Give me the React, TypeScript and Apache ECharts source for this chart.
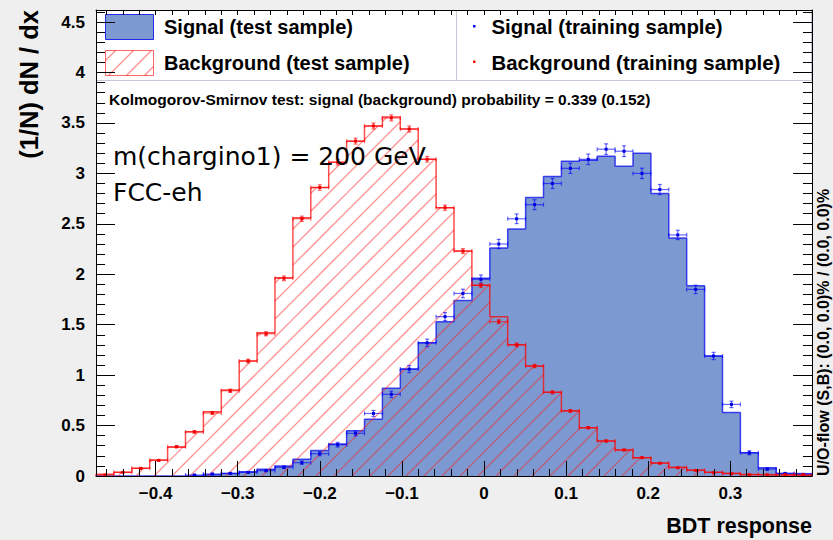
import React, { useEffect, useRef } from "react";
import * as echarts from "echarts";

// ---- histogram definition ----
const X_MIN = -0.4726;
const X_MAX = 0.3995;
const N_BINS = 40;
const Y_MIN = 0;
const Y_MAX = 4.62;

// Signal (test sample) – filled histogram
const SIG_TEST = [0, 0, 0, 0, 0, 0.003, 0.013, 0.026, 0.043, 0.066, 0.099, 0.165, 0.254, 0.317, 0.449, 0.562, 0.869, 1.06, 1.32, 1.53, 1.74, 1.96, 2.26, 2.45, 2.76, 2.97, 3.12, 3.13, 3.17, 3.07, 3.2, 2.8, 2.36, 1.885, 1.19, 0.63, 0.23, 0.082, 0.026, 0.022];
// Background (test sample) – hatched histogram
const BKG_TEST = [0.017, 0.037, 0.076, 0.159, 0.284, 0.439, 0.637, 0.852, 1.14, 1.42, 1.965, 2.56, 2.86, 3.11, 3.32, 3.47, 3.56, 3.44, 3.14, 2.66, 2.23, 1.89, 1.58, 1.3, 1.09, 0.83, 0.647, 0.479, 0.347, 0.258, 0.18, 0.129, 0.086, 0.059, 0.037, 0.027, 0.015, 0.01, 0.007, 0.005];
// Signal (training sample) – points with errors
const SIG_TRAIN = [0, 0, 0, 0, 0, 0.01, 0.02, 0.026, 0.036, 0.053, 0.086, 0.132, 0.221, 0.31, 0.423, 0.62, 0.81, 1.06, 1.32, 1.58, 1.81, 1.95, 2.3, 2.55, 2.69, 2.9, 3.05, 3.14, 3.24, 3.22, 3.0, 2.84, 2.39, 1.85, 1.19, 0.71, 0.23, 0.069, 0.026, 0.016];
const SIG_TRAIN_ERR = [0, 0, 0, 0, 0, 0.004, 0.006, 0.007, 0.008, 0.01, 0.013, 0.016, 0.02, 0.023, 0.026, 0.03, 0.032, 0.035, 0.037, 0.04, 0.042, 0.043, 0.046, 0.048, 0.049, 0.05, 0.051, 0.052, 0.053, 0.053, 0.051, 0.05, 0.046, 0.042, 0.036, 0.032, 0.02, 0.011, 0.007, 0.005];
// Background (training sample) – points with errors
const BKG_TRAIN = [0.01, 0.036, 0.076, 0.155, 0.29, 0.437, 0.625, 0.845, 1.14, 1.41, 1.96, 2.55, 2.86, 3.11, 3.32, 3.47, 3.55, 3.44, 3.14, 2.66, 2.23, 1.89, 1.53, 1.3, 1.09, 0.83, 0.645, 0.479, 0.347, 0.258, 0.182, 0.127, 0.081, 0.055, 0.035, 0.023, 0.013, 0.013, 0.013, 0.013];
const BKG_TRAIN_ERR = [0.003, 0.004, 0.005, 0.007, 0.01, 0.012, 0.014, 0.016, 0.018, 0.02, 0.023, 0.026, 0.027, 0.028, 0.029, 0.03, 0.03, 0.03, 0.028, 0.026, 0.024, 0.022, 0.02, 0.019, 0.017, 0.015, 0.013, 0.011, 0.01, 0.008, 0.007, 0.006, 0.005, 0.004, 0.003, 0.003, 0.002, 0.002, 0.002, 0.002];

// ---- ticks & labels ----
const X_MAJOR_TICKS = [-0.4, -0.3, -0.2, -0.1, 0, 0.1, 0.2, 0.3];
const X_TICK_LABELS = ["\u22120.4", "\u22120.3", "\u22120.2", "\u22120.1", "0", "0.1", "0.2", "0.3"];
const Y_MAJOR_TICKS = [0, 0.5, 1, 1.5, 2, 2.5, 3, 3.5, 4, 4.5];
const Y_TICK_LABELS = ["0", "0.5", "1", "1.5", "2", "2.5", "3", "3.5", "4", "4.5"];

const LEGEND_LEFT = ["Signal (test sample)", "Background (test sample)"];
const LEGEND_RIGHT = ["Signal (training sample)", "Background (training sample)"];
const KS_TEXT = "Kolmogorov-Smirnov test: signal (background) probability = 0.339 (0.152)";
const NOTE_LINES = ["m(chargino1) = 200 GeV", "FCC-eh"];
const X_TITLE = "BDT response";
const Y_TITLE = "(1/N) dN / dx";
const FLOW_TEXT = "U/O-flow (S,B): (0.0, 0.0)% / (0.0, 0.0)%";

const X_MINOR_TICKS: number[] = [];
for (let k = -23; k <= 19; k++) if (k % 5 !== 0) X_MINOR_TICKS.push(Number((k * 0.02).toFixed(2)));
const X_ALL_TICKS: number[] = [];
for (let k = -23; k <= 19; k++) X_ALL_TICKS.push(Number((k * 0.02).toFixed(2)));
const Y_MINOR_TICKS: number[] = [];
for (let k = 1; k <= 46; k++) if (k % 5 !== 0) Y_MINOR_TICKS.push(Number((k * 0.1).toFixed(1)));

const BIN_W = (X_MAX - X_MIN) / N_BINS;
const EDGES = Array.from({ length: N_BINS + 1 }, (_, i) => X_MIN + i * BIN_W);

const FONT = '"Liberation Sans", Arial, Helvetica, sans-serif';
const NOTE_FONT = '"DejaVu Sans", Verdana, sans-serif';
const SIG_FILL = "#7d99d1";
const SIG_LINE = "#0000ee";
const BKG_LINE = "#ff0000";
const HATCH_STEP = 18;

// diagonal "/" hatch lines (x + y = c) clipped to a pixel rectangle
function hatchLines(xa: number, yt: number, xb: number, yb: number, offset = 0) {
  const out: any[] = [];
  const cMin = xa + yt;
  const cMax = xb + yb;
  for (let c = Math.ceil((cMin - offset) / HATCH_STEP) * HATCH_STEP + offset; c <= cMax; c += HATCH_STEP) {
    const lo = Math.max(xa, c - yb);
    const hi = Math.min(xb, c - yt);
    if (hi > lo + 0.2) {
      out.push({
        type: "line",
        shape: { x1: lo, y1: c - lo, x2: hi, y2: c - hi },
        style: { stroke: "#ff2020", lineWidth: 1.3, opacity: 0.5 },
      });
    }
  }
  return out;
}

function stepData(vals: number[]) {
  const d: number[][] = [[EDGES[0], 0]];
  vals.forEach((v, i) => d.push([EDGES[i], v]));
  d.push([EDGES[N_BINS], vals[N_BINS - 1]]);
  d.push([EDGES[N_BINS], 0]);
  return d;
}

function binData(vals: number[]) {
  return vals.map((v, i) => [EDGES[i], EDGES[i + 1], v]);
}

function pointData(vals: number[], errs: number[]) {
  const d: number[][] = [];
  vals.forEach((v, i) => {
    if (v > 0) d.push([(EDGES[i] + EDGES[i + 1]) / 2, v, errs[i], EDGES[i], EDGES[i + 1]]);
  });
  return d;
}

function renderHatch(_params: any, api: any) {
  const x0 = api.value(0);
  const x1 = api.value(1);
  const v = api.value(2);
  const pA = api.coord([x0, v]);
  const pB = api.coord([x1, 0]);
  return { type: "group", children: hatchLines(pA[0], pA[1], pB[0], pB[1]) };
}

function makeRender(barColor: string, markColor: string) {
  return (_params: any, api: any) => {
    const xc = api.value(0);
    const v = api.value(1);
    const e = api.value(2);
    const x0 = api.value(3);
    const x1 = api.value(4);
    const pL = api.coord([x0, v]);
    const pR = api.coord([x1, v]);
    const pC = api.coord([xc, v]);
    const pT = api.coord([xc, v + e]);
    const pB = api.coord([xc, Math.max(0, v - e)]);
    const s = { stroke: barColor, lineWidth: 1.2, opacity: 0.6 };
    return {
      type: "group",
      children: [
        { type: "line", shape: { x1: pL[0], y1: pL[1], x2: pR[0], y2: pR[1] }, style: s },
        { type: "line", shape: { x1: pL[0], y1: pL[1] - 2, x2: pL[0], y2: pL[1] + 2 }, style: s },
        { type: "line", shape: { x1: pR[0], y1: pR[1] - 2, x2: pR[0], y2: pR[1] + 2 }, style: s },
        { type: "line", shape: { x1: pT[0], y1: pT[1], x2: pB[0], y2: pB[1] }, style: s },
        { type: "line", shape: { x1: pT[0] - 2, y1: pT[1], x2: pT[0] + 2, y2: pT[1] }, style: s },
        { type: "line", shape: { x1: pB[0] - 2, y1: pB[1], x2: pB[0] + 2, y2: pB[1] }, style: s },
        { type: "rect", shape: { x: pC[0] - 1.5, y: pC[1] - 1.5, width: 3, height: 3 }, style: { fill: markColor } },
      ],
    };
  };
}

function labelFor(ticks: number[], labels: string[]) {
  return (v: number) => {
    const i = ticks.findIndex((t) => Math.abs(t - v) < 1e-9);
    return i >= 0 ? labels[i] : "";
  };
}

export default function App() {
  const ref = useRef<HTMLDivElement>(null);

  useEffect(() => {
    if (!ref.current) return;
    const chart = echarts.init(ref.current, null, { renderer: "svg" });
    const lineSt = { color: "#000", width: 1 };
    const hiddenLabel = { show: false };
    const baseX = { type: "value", min: X_MIN, max: X_MAX, z: 10, splitLine: { show: false } };
    const baseY = { type: "value", min: Y_MIN, max: Y_MAX, z: 10, splitLine: { show: false } };

    const legendHatch = hatchLines(105.5, 50.5, 153.5, 75.5, 4).map((l) => ({ ...l, z: 3 }));

    const option: any = {
      animation: false,
      backgroundColor: "#efefef",
      grid: { left: 96, right: 21, top: 10, bottom: 64, show: true, backgroundColor: "#ffffff", borderWidth: 0 },
      xAxis: [
        {
          ...baseX,
          position: "bottom",
          axisLine: { show: true, onZero: false, lineStyle: lineSt },
          axisTick: { show: true, inside: true, length: 15, customValues: X_MAJOR_TICKS, lineStyle: lineSt },
          axisLabel: {
            show: true, customValues: X_MAJOR_TICKS, formatter: labelFor(X_MAJOR_TICKS, X_TICK_LABELS),
            margin: 9, fontSize: 17, fontWeight: "bold", color: "#000", fontFamily: FONT,
          },
        },
        {
          ...baseX,
          position: "bottom",
          axisLine: { show: false, onZero: false },
          axisTick: { show: true, inside: true, length: 7, customValues: X_MINOR_TICKS, lineStyle: lineSt },
          axisLabel: hiddenLabel,
        },
        {
          ...baseX,
          position: "top",
          axisLine: { show: true, onZero: false, lineStyle: lineSt },
          axisTick: { show: true, inside: true, length: 5, customValues: X_ALL_TICKS, lineStyle: lineSt },
          axisLabel: hiddenLabel,
        },
      ],
      yAxis: [
        {
          ...baseY,
          position: "left",
          axisLine: { show: true, onZero: false, lineStyle: lineSt },
          axisTick: { show: true, inside: true, length: 19, customValues: Y_MAJOR_TICKS, lineStyle: lineSt },
          axisLabel: {
            show: true, customValues: Y_MAJOR_TICKS, formatter: labelFor(Y_MAJOR_TICKS, Y_TICK_LABELS),
            margin: 11, fontSize: 17, fontWeight: "bold", color: "#000", fontFamily: FONT,
          },
        },
        {
          ...baseY,
          position: "left",
          axisLine: { show: false, onZero: false },
          axisTick: { show: true, inside: true, length: 9, customValues: Y_MINOR_TICKS, lineStyle: lineSt },
          axisLabel: hiddenLabel,
        },
        {
          ...baseY,
          position: "right",
          axisLine: { show: true, onZero: false, lineStyle: lineSt },
          axisTick: { show: true, inside: true, length: 19, customValues: Y_MAJOR_TICKS, lineStyle: lineSt },
          axisLabel: hiddenLabel,
        },
        {
          ...baseY,
          position: "right",
          axisLine: { show: false, onZero: false },
          axisTick: { show: true, inside: true, length: 9, customValues: Y_MINOR_TICKS, lineStyle: lineSt },
          axisLabel: hiddenLabel,
        },
      ],
      series: [
        {
          name: LEGEND_LEFT[0], type: "line", xAxisIndex: 0, yAxisIndex: 0, step: "end", symbol: "none",
          data: stepData(SIG_TEST), z: 2,
          lineStyle: { color: SIG_LINE, width: 1.5, opacity: 0.7 },
          areaStyle: { color: SIG_FILL, opacity: 1 },
        },
        {
          name: LEGEND_LEFT[1] + " hatch", type: "custom", xAxisIndex: 0, yAxisIndex: 0, z: 3, clip: true,
          data: binData(BKG_TEST), encode: { x: [0, 1], y: 2 },
          renderItem: renderHatch,
        },
        {
          name: LEGEND_LEFT[1], type: "line", xAxisIndex: 0, yAxisIndex: 0, step: "end", symbol: "none",
          data: stepData(BKG_TEST), z: 4,
          lineStyle: { color: BKG_LINE, width: 1.5, opacity: 0.7 },
        },
        {
          name: LEGEND_RIGHT[0], type: "custom", xAxisIndex: 0, yAxisIndex: 0, z: 5, clip: true,
          data: pointData(SIG_TRAIN, SIG_TRAIN_ERR), encode: { x: 0, y: 1 },
          renderItem: makeRender("#0000ff", "#0000dd"),
        },
        {
          name: LEGEND_RIGHT[1], type: "custom", xAxisIndex: 0, yAxisIndex: 0, z: 6, clip: true,
          data: pointData(BKG_TRAIN, BKG_TRAIN_ERR), encode: { x: 0, y: 1 },
          renderItem: makeRender("#ff0000", "#ee0000"),
        },
      ],
      graphic: [
        // legend boxes
        { type: "rect", z: 1, shape: { x: 96.5, y: 10.5, width: 360, height: 70 }, style: { fill: "#ffffff", stroke: "#c4c8d4", lineWidth: 1 } },
        { type: "rect", z: 1, shape: { x: 456.5, y: 10.5, width: 355, height: 70 }, style: { fill: "#ffffff", stroke: "#c4c8d4", lineWidth: 1 } },
        { type: "rect", z: 3, shape: { x: 105.5, y: 14.5, width: 48, height: 25 }, style: { fill: SIG_FILL, stroke: SIG_LINE, lineWidth: 1, strokeOpacity: 0.8 } },
        ...legendHatch,
        { type: "rect", z: 3, shape: { x: 105.5, y: 50.5, width: 48, height: 25 }, style: { fill: "none", stroke: BKG_LINE, lineWidth: 1, strokeOpacity: 0.6 } },
        { type: "text", z: 3, x: 164, y: 27, style: { text: LEGEND_LEFT[0], font: `bold 20px ${FONT}`, fill: "#000", verticalAlign: "middle" } },
        { type: "text", z: 3, x: 164, y: 62.5, style: { text: LEGEND_LEFT[1], font: `bold 20px ${FONT}`, fill: "#000", verticalAlign: "middle" } },
        { type: "rect", z: 3, shape: { x: 473, y: 25, width: 2.5, height: 2.5 }, style: { fill: "#0000ff" } },
        { type: "rect", z: 3, shape: { x: 473, y: 60.5, width: 2.5, height: 2.5 }, style: { fill: "#ff0000" } },
        { type: "text", z: 3, x: 491.5, y: 27, style: { text: LEGEND_RIGHT[0], font: `bold 20.4px ${FONT}`, fill: "#000", verticalAlign: "middle" } },
        { type: "text", z: 3, x: 491.5, y: 62.5, style: { text: LEGEND_RIGHT[1], font: `bold 20.4px ${FONT}`, fill: "#000", verticalAlign: "middle" } },
        // KS text
        { type: "text", z: 3, x: 109, y: 99, style: { text: KS_TEXT, font: `bold 15.5px ${FONT}`, fill: "#000", verticalAlign: "middle" } },
        // annotation
        { type: "text", z: 20, x: 113, y: 156, style: { text: NOTE_LINES[0], font: `25px ${NOTE_FONT}`, fill: "#000", verticalAlign: "middle" } },
        { type: "text", z: 20, x: 113, y: 192, style: { text: NOTE_LINES[1], font: `25px ${NOTE_FONT}`, fill: "#000", verticalAlign: "middle" } },
        // axis titles
        { type: "text", z: 3, x: 812, y: 525.5, style: { text: X_TITLE, font: `bold 21.5px ${FONT}`, fill: "#000", align: "right", verticalAlign: "middle" } },
        { type: "text", z: 3, x: 29, y: 10, rotation: Math.PI / 2, style: { text: Y_TITLE, font: `bold 25.5px ${FONT}`, fill: "#000", align: "right", verticalAlign: "middle" } },
        { type: "text", z: 3, x: 823, y: 476, rotation: Math.PI / 2, style: { text: FLOW_TEXT, font: `bold 16px ${FONT}`, fill: "#000", align: "left", verticalAlign: "middle" } },
      ],
    };
    chart.setOption(option);
    return () => chart.dispose();
  }, []);

  return <div ref={ref} style={{ position: "absolute", left: 0, top: 0, width: 833, height: 540 }} />;
}
